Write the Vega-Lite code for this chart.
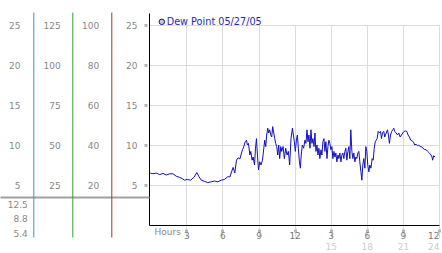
{
"$schema": "https://vega.github.io/schema/vega-lite/v6.json",
"width": 290, "height": 200,
"autosize": {"type": "none"},
"padding": {"left": 149, "top": 25, "right": 3, "bottom": 28},
"background": "white",
"config": {"view": {"stroke": null}, "font": "DejaVu Sans", "axis": {"labelFont": "DejaVu Sans", "labelFontSize": 9, "labelColor": "#888888", "titleFont": "DejaVu Sans"}, "legend": {"labelFont": "DejaVu Sans"}},
"data": {"values": [
{"hour":0,"dew":6.5},{"hour":0.23,"dew":6.4},{"hour":0.51,"dew":6.5},{"hour":0.79,"dew":6.3},{"hour":1.06,"dew":6.45},{"hour":1.34,"dew":6.25},{"hour":1.62,"dew":6.4},{"hour":1.89,"dew":6.4},{"hour":2.16,"dew":6.1},{"hour":2.45,"dew":5.95},{"hour":2.66,"dew":5.8},{"hour":2.86,"dew":5.6},{"hour":3.08,"dew":5.7},{"hour":3.36,"dew":5.6},{"hour":3.63,"dew":5.95},{"hour":3.88,"dew":6.55},{"hour":4.05,"dew":6.05},{"hour":4.24,"dew":5.6},{"hour":4.52,"dew":5.45},{"hour":4.79,"dew":5.3},{"hour":5.07,"dew":5.4},{"hour":5.35,"dew":5.5},{"hour":5.62,"dew":5.4},{"hour":5.9,"dew":5.6},{"hour":6.18,"dew":5.7},{"hour":6.45,"dew":6.05},{"hour":6.62,"dew":6.0},{"hour":6.73,"dew":6.5},{"hour":6.89,"dew":7.2},{"hour":7.03,"dew":6.5},{"hour":7.17,"dew":8.1},{"hour":7.31,"dew":8.4},{"hour":7.45,"dew":8.25},{"hour":7.59,"dew":9.0},{"hour":7.67,"dew":9.4},{"hour":7.78,"dew":9.8},{"hour":7.89,"dew":10.4},{"hour":8.0,"dew":10.6},{"hour":8.08,"dew":10.0},{"hour":8.17,"dew":10.2},{"hour":8.28,"dew":8.75},{"hour":8.36,"dew":9.2},{"hour":8.47,"dew":8.1},{"hour":8.55,"dew":8.5},{"hour":8.67,"dew":7.5},{"hour":8.75,"dew":9.6},{"hour":8.83,"dew":10.8},{"hour":8.91,"dew":8.75},{"hour":9.0,"dew":6.9},{"hour":9.1,"dew":7.9},{"hour":9.21,"dew":7.5},{"hour":9.33,"dew":8.1},{"hour":9.44,"dew":9.6},{"hour":9.52,"dew":10.6},{"hour":9.6,"dew":9.8},{"hour":9.68,"dew":11.25},{"hour":9.77,"dew":12.1},{"hour":9.85,"dew":11.5},{"hour":9.93,"dew":11.9},{"hour":10.02,"dew":11.25},{"hour":10.1,"dew":11.0},{"hour":10.18,"dew":12.3},{"hour":10.27,"dew":11.5},{"hour":10.35,"dew":10.8},{"hour":10.43,"dew":10.2},{"hour":10.51,"dew":9.8},{"hour":10.6,"dew":8.75},{"hour":10.68,"dew":10.0},{"hour":10.76,"dew":8.3},{"hour":10.85,"dew":9.8},{"hour":10.93,"dew":9.2},{"hour":11.04,"dew":9.8},{"hour":11.15,"dew":8.3},{"hour":11.26,"dew":9.6},{"hour":11.37,"dew":8.75},{"hour":11.48,"dew":9.2},{"hour":11.59,"dew":7.5},{"hour":11.7,"dew":10.8},{"hour":11.82,"dew":12.1},{"hour":11.9,"dew":11.25},{"hour":11.98,"dew":10.4},{"hour":12.06,"dew":9.2},{"hour":12.15,"dew":10.6},{"hour":12.23,"dew":11.25},{"hour":12.31,"dew":9.6},{"hour":12.4,"dew":7.9},{"hour":12.48,"dew":7.1},{"hour":12.55,"dew":8.75},{"hour":12.64,"dew":10.0},{"hour":12.75,"dew":9.6},{"hour":12.86,"dew":10.6},{"hour":12.94,"dew":10.2},{"hour":13.03,"dew":11.9},{"hour":13.11,"dew":10.4},{"hour":13.19,"dew":11.25},{"hour":13.28,"dew":9.6},{"hour":13.36,"dew":11.9},{"hour":13.44,"dew":10.2},{"hour":13.52,"dew":10.8},{"hour":13.61,"dew":9.8},{"hour":13.69,"dew":11.5},{"hour":13.77,"dew":9.2},{"hour":13.86,"dew":10.0},{"hour":13.94,"dew":8.75},{"hour":14.02,"dew":9.6},{"hour":14.1,"dew":8.3},{"hour":14.19,"dew":9.4},{"hour":14.27,"dew":8.75},{"hour":14.35,"dew":10.4},{"hour":14.44,"dew":10.8},{"hour":14.52,"dew":9.2},{"hour":14.6,"dew":10.4},{"hour":14.69,"dew":8.3},{"hour":14.77,"dew":9.8},{"hour":14.85,"dew":10.6},{"hour":14.93,"dew":10.2},{"hour":15.02,"dew":9.4},{"hour":15.1,"dew":9.8},{"hour":15.18,"dew":8.3},{"hour":15.27,"dew":9.2},{"hour":15.35,"dew":8.5},{"hour":15.43,"dew":9.0},{"hour":15.51,"dew":7.9},{"hour":15.6,"dew":8.75},{"hour":15.68,"dew":8.3},{"hour":15.76,"dew":9.0},{"hour":15.85,"dew":7.9},{"hour":15.93,"dew":8.75},{"hour":16.01,"dew":9.0},{"hour":16.09,"dew":8.3},{"hour":16.18,"dew":9.2},{"hour":16.26,"dew":9.6},{"hour":16.34,"dew":8.1},{"hour":16.43,"dew":9.2},{"hour":16.51,"dew":9.8},{"hour":16.59,"dew":8.3},{"hour":16.67,"dew":11.9},{"hour":16.76,"dew":9.2},{"hour":16.84,"dew":8.3},{"hour":16.92,"dew":9.0},{"hour":17.01,"dew":7.9},{"hour":17.09,"dew":8.5},{"hour":17.17,"dew":8.3},{"hour":17.26,"dew":9.0},{"hour":17.34,"dew":9.2},{"hour":17.42,"dew":7.9},{"hour":17.51,"dew":6.65},{"hour":17.59,"dew":5.6},{"hour":17.67,"dew":7.5},{"hour":17.75,"dew":8.3},{"hour":17.84,"dew":7.1},{"hour":17.92,"dew":9.8},{"hour":18.0,"dew":9.2},{"hour":18.08,"dew":7.5},{"hour":18.17,"dew":6.65},{"hour":18.25,"dew":7.5},{"hour":18.34,"dew":7.1},{"hour":18.45,"dew":8.3},{"hour":18.53,"dew":8.1},{"hour":18.62,"dew":9.6},{"hour":18.7,"dew":10.4},{"hour":18.78,"dew":10.6},{"hour":18.86,"dew":10.8},{"hour":18.95,"dew":11.7},{"hour":19.05,"dew":11.5},{"hour":19.14,"dew":11.7},{"hour":19.22,"dew":10.8},{"hour":19.3,"dew":11.5},{"hour":19.41,"dew":11.7},{"hour":19.49,"dew":11.0},{"hour":19.61,"dew":11.5},{"hour":19.72,"dew":11.9},{"hour":19.8,"dew":11.25},{"hour":19.88,"dew":10.2},{"hour":19.97,"dew":11.25},{"hour":20.07,"dew":11.7},{"hour":20.16,"dew":11.9},{"hour":20.24,"dew":12.1},{"hour":20.32,"dew":11.7},{"hour":20.44,"dew":11.5},{"hour":20.55,"dew":11.25},{"hour":20.66,"dew":11.5},{"hour":20.77,"dew":11.0},{"hour":20.88,"dew":11.25},{"hour":20.99,"dew":11.5},{"hour":21.1,"dew":11.7},{"hour":21.21,"dew":11.75},{"hour":21.32,"dew":11.7},{"hour":21.43,"dew":11.25},{"hour":21.54,"dew":11.0},{"hour":21.65,"dew":10.6},{"hour":21.77,"dew":10.5},{"hour":21.87,"dew":10.4},{"hour":21.98,"dew":10.0},{"hour":22.1,"dew":10.1},{"hour":22.21,"dew":9.9},{"hour":22.31,"dew":10.0},{"hour":22.43,"dew":9.8},{"hour":22.54,"dew":9.8},{"hour":22.65,"dew":9.6},{"hour":22.79,"dew":9.45},{"hour":22.93,"dew":9.4},{"hour":23.06,"dew":9.2},{"hour":23.2,"dew":9.0},{"hour":23.34,"dew":8.75},{"hour":23.42,"dew":8.5},{"hour":23.47,"dew":8.1},{"hour":23.56,"dew":8.65},{"hour":23.67,"dew":8.5}
]},
"layer": [
{
"mark": {"type": "line", "strokeWidth": 1},
"encoding": {
"x": {"field": "hour", "type": "quantitative", "scale": {"domain": [-0.1, 24], "nice": false, "zero": false},
 "axis": {"orient": "bottom", "values": [3,6,9,12,15,18,21,24], "labelExpr": "'' + (datum.value > 12 ? datum.value - 12 : datum.value)", "domain": true, "domainColor": "#000000", "domainWidth": 1, "ticks": true, "tickSize": 7, "tickDash": [0,4,3,200], "tickWidth": 3, "tickColor": "#b8b8b8", "labelPadding": 3.5, "labelBaseline": "middle", "labelAlign": {"condition": {"test": "datum.value == 24", "value": "right"}, "value": "center"}, "labelColor": "#777777", "labelFontSize": 9, "labelFlush": false, "labelOverlap": false, "grid": true, "gridColor": "#dcdcdc", "gridWidth": 1, "title": "Hours", "titleX": 5, "titleY": 6.5, "titleAlign": "left", "titleBaseline": "middle", "titleFontWeight": "normal", "titleFontSize": 9, "titleColor": "#888888"}},
"y": {"field": "dew", "type": "quantitative", "scale": {"domain": [0, 26.5], "range": [200, -12], "nice": false, "zero": false},
 "axis": {"orient": "left", "values": [5,10,15,20,25], "domain": true, "domainColor": "#000000", "domainWidth": 1, "ticks": true, "tickSize": 5, "tickDash": [0,2,3,200], "tickWidth": 3, "tickColor": "#b8b8b8", "labelPadding": 7, "labelColor": "#888888", "labelFontSize": 9, "grid": true, "gridColor": "#dcdcdc", "gridWidth": 1, "title": null}},
"color": {"datum": "Dew Point 05/27/05", "type": "nominal", "scale": {"range": ["#1010c0"]},
 "legend": {"title": null, "orient": "none", "legendX": 8, "legendY": -8, "symbolType": "circle", "symbolSize": 30, "symbolFillColor": "#c8c8c8", "symbolStrokeColor": "#888888", "symbolStrokeWidth": 1, "labelColor": "#2828b8", "labelFontSize": 9.7, "labelOffset": 0, "padding": 0,
  "encode": {"symbols": {"update": {"fill": {"value": "#c8c8c8"}, "stroke": {"value": "#888888"}, "strokeWidth": {"value": 1}, "opacity": {"value": 1}}}}}}
}
},
{
"mark": {"type": "point", "opacity": 0},
"encoding": {
"x": {"field": "hour", "type": "quantitative",
 "axis": {"orient": "bottom", "values": [15,18,21,24], "domain": false, "ticks": false, "grid": false, "labelPadding": 21.3, "labelBaseline": "middle", "labelColor": "#cccccc", "labelFontSize": 9, "labelFlush": false, "labelOverlap": false, "labelAlign": {"condition": {"test": "datum.value == 24", "value": "right"}, "value": "center"}, "title": null}},
"y": {"datum": 5, "type": "quantitative", "scale": {"domain": [-1.5, 26.625], "range": [212, -13], "nice": false, "zero": false},
 "axis": {"orient": "left", "offset": 115.7, "values": [5,10,15,20,25], "domain": true, "domainColor": "#3399cc", "domainWidth": 1, "ticks": false, "grid": false, "labelPadding": 13.3, "labelColor": "#888888", "labelFontSize": 9, "zindex": 2,
  "title": ["12.5", "8.8", "5.4"], "titleAngle": 0, "titleAlign": "right", "titleBaseline": "top", "titleX": -6, "titleY": 175, "titleLineHeight": 14.5, "titleFontSize": 9, "titleFontWeight": "normal", "titleColor": "#888888"}}
}
},
{
"mark": {"type": "point", "opacity": 0},
"encoding": {
"y": {"datum": 25, "type": "quantitative", "scale": {"domain": [-7.5, 133.125], "range": [212, -13], "nice": false, "zero": false},
 "axis": {"orient": "left", "offset": 76.7, "values": [25,50,75,100,125], "domain": true, "domainColor": "#33a033", "domainWidth": 1, "ticks": false, "grid": false, "labelPadding": 12, "labelColor": "#888888", "labelFontSize": 9, "zindex": 2, "title": null}}
}
},
{
"mark": {"type": "point", "opacity": 0},
"encoding": {
"y": {"datum": 20, "type": "quantitative", "scale": {"domain": [-6, 106.5], "range": [212, -13], "nice": false, "zero": false},
 "axis": {"orient": "left", "offset": 37.7, "values": [20,40,60,80,100], "domain": true, "domainColor": "#b03030", "domainWidth": 1, "ticks": false, "grid": false, "labelPadding": 12.6, "labelColor": "#888888", "labelFontSize": 9, "zindex": 2, "title": null}}
}
},
{
"mark": {"type": "point", "opacity": 0},
"encoding": {
"y": {"datum": 3.5, "type": "quantitative", "scale": {"domain": [0, 25], "nice": false, "zero": false},
 "axis": {"orient": "left", "values": [3.5], "domain": false, "labels": false, "ticks": true, "tickSize": 149, "tickColor": "#a0a0a0", "tickWidth": 2, "grid": false, "zindex": 1, "title": null}}
}
}
],
"resolve": {"scale": {"y": "independent"}, "axis": {"x": "independent", "y": "independent"}}
}
